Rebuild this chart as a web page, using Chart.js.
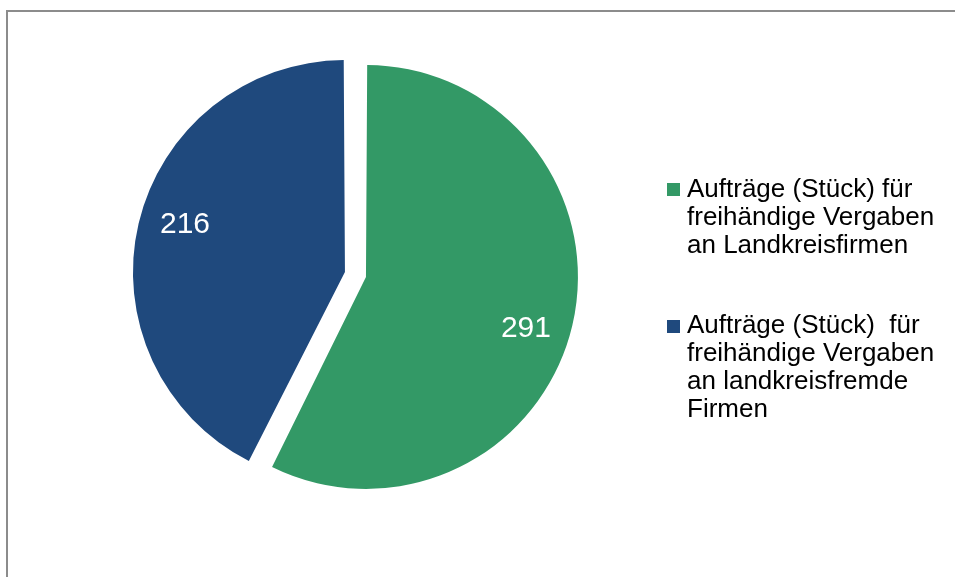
<!DOCTYPE html>
<html>
<head>
<meta charset="utf-8">
<script src="https://cdn.jsdelivr.net/npm/chart.js@4"></script>
<style>
  html, body { margin: 0; padding: 0; background: #ffffff; }
  #wrap { position: relative; width: 955px; height: 577px; overflow: hidden; }
  #frame { position: absolute; left: 6px; top: 10px; width: 1200px; height: 800px;
           border-left: 2px solid #8c8c8c; border-top: 2px solid #8c8c8c; }
  canvas { position: absolute; left: 0; top: 0; }
  .leg { position: absolute; left: 667px; font-family: "Liberation Sans", Arial, sans-serif;
         font-size: 26px; line-height: 28px; color: #000; white-space: pre; }
  .leg .sw { position: absolute; left: 0; top: 9.5px; width: 13px; height: 13px; }
  .leg .tx { position: absolute; left: 20px; top: 0; }
</style>
</head>
<body>
<div id="wrap">
  <div id="frame"></div>
  <canvas id="c" width="955" height="577"></canvas>
  <div id="legend"></div>
</div>
<script>
// ---- data ----
const categories = [
  "Aufträge (Stück) für freihändige Vergaben an Landkreisfirmen",
  "Aufträge (Stück)  für freihändige Vergaben an landkreisfremde Firmen"
];
const legendLines = [
  ["Aufträge (Stück) für", "freihändige Vergaben", "an Landkreisfirmen"],
  ["Aufträge (Stück)  für", "freihändige Vergaben", "an landkreisfremde", "Firmen"]
];
const values = [291, 216];
const colors = ["#339966", "#1F497D"];
const offsets = [30.7, 55.7];

// ---- legend (HTML) ----
const legendTops = [173.7, 310.3];
const legendEl = document.getElementById('legend');
legendLines.forEach((lines, i) => {
  const d = document.createElement('div');
  d.className = 'leg';
  d.style.top = legendTops[i] + 'px';
  const sw = document.createElement('div');
  sw.className = 'sw';
  sw.style.background = colors[i];
  const tx = document.createElement('div');
  tx.className = 'tx';
  tx.textContent = lines.join('\n');
  d.appendChild(sw); d.appendChild(tx);
  legendEl.appendChild(d);
});

// ---- value labels plugin ----
const valueLabels = {
  id: 'valueLabels',
  afterDatasetsDraw(chart) {
    const ctx = chart.ctx;
    const meta = chart.getDatasetMeta(0);
    const size = 30;
    ctx.save();
    ctx.font = size + 'px "Liberation Sans", Arial, sans-serif';
    ctx.fillStyle = '#ffffff';
    ctx.textAlign = 'center';
    ctx.textBaseline = 'alphabetic';
    meta.data.forEach((el, i) => {
      const p = el.getProps(['x', 'y', 'startAngle', 'endAngle', 'outerRadius', 'circumference'], true);
      const mid = (p.startAngle + p.endAngle) / 2;
      const off = (el.options.offset || 0) / 4;
      const fix = 1 - Math.sin(Math.min(Math.PI, p.circumference));
      const cx = p.x + Math.cos(mid) * off;
      const cy = p.y + Math.sin(mid) * off;
      const R = p.outerRadius + off * fix;
      const a = mid + 3.9 * Math.PI / 180;
      const lx = cx + Math.cos(a) * R * 0.79;
      const ly = cy + Math.sin(a) * R * 0.79;
      ctx.fillText(String(chart.data.datasets[0].data[i]), lx, ly + size * 0.358);
    });
    ctx.restore();
  }
};

new Chart(document.getElementById('c'), {
  type: 'pie',
  data: {
    labels: categories,
    datasets: [{
      data: values,
      backgroundColor: colors,
      borderWidth: 0,
      offset: offsets,
      hoverOffset: 0,
      radius: 204.3
    }]
  },
  options: {
    responsive: false,
    animation: false,
    layout: { padding: { left: 0, top: 0, right: 238, bottom: 26.6 } },
    plugins: {
      legend: { display: false },
      tooltip: { enabled: false }
    },
    events: []
  },
  plugins: [valueLabels]
});
</script>
</body>
</html>
